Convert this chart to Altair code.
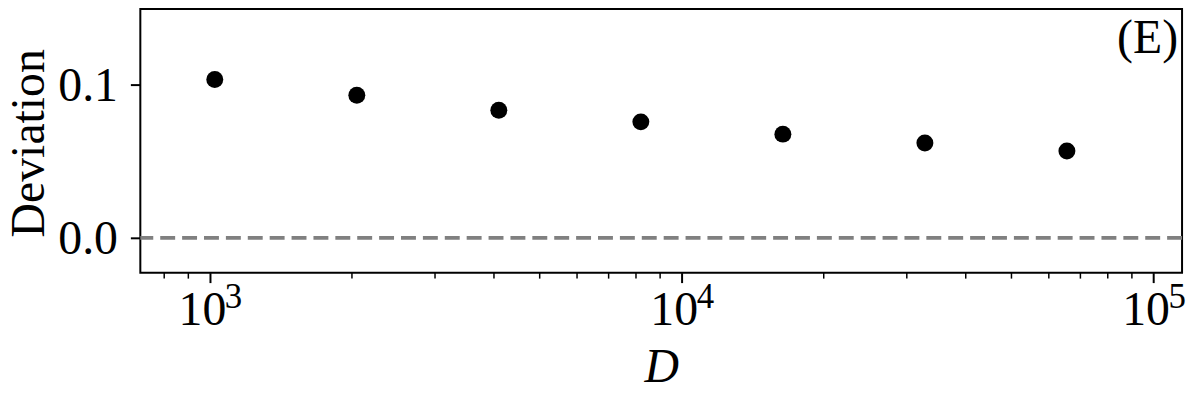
import altair as alt
import pandas as pd

# ---- data ----
D_values = [1024, 2048, 4096, 8192, 16384, 32768, 65536]
deviation = [0.1032, 0.0929, 0.0832, 0.0756, 0.0676, 0.0618, 0.0566]
zero_line = [0.0]
decades = [1000, 10000, 100000]
exponents = ["3", "4", "5"]
minor_ticks = [800, 900, 2000, 3000, 4000, 5000, 6000, 7000, 8000, 9000,
               20000, 30000, 40000, 50000, 60000, 70000, 80000, 90000]
y_ticks = [0.0, 0.1]
panel_label = ["(E)"]

FONT = "Liberation Serif"
FS = 48
W, H = 1047, 265

pts = pd.DataFrame({"D": D_values, "dev": deviation})
zl = pd.DataFrame({"dev": zero_line})
dec = pd.DataFrame({"D": decades, "e": exponents})
mn = pd.DataFrame({"D": minor_ticks})
lab = pd.DataFrame({"t": panel_label})

xscale = alt.Scale(type="log", domain=[712, 114960], nice=False)
yscale = alt.Scale(domain=[-0.0227, 0.1492], nice=False, zero=False)

xaxis = alt.Axis(
    values=decades, labelExpr="'10'", title="D",
    tickSize=10, tickWidth=2, tickColor="black",
    labelFont=FONT, labelFontSize=FS, labelColor="black",
    labelBaseline="alphabetic", labelPadding=42.5, labelOffset=-8,
    labelFlush=False, labelOverlap=False, labelBound=False,
    titleFont=FONT, titleFontSize=FS, titleFontStyle="italic",
    titleFontWeight="normal", titleColor="black",
    titleBaseline="alphabetic", titleY=109,
    domain=False, grid=False,
)
yaxis = alt.Axis(
    values=y_ticks, format=".1f", title="Deviation",
    tickSize=10, tickWidth=2, tickColor="black",
    labelFont=FONT, labelFontSize=FS, labelColor="black",
    labelPadding=13, labelBaseline="alphabetic", labelOffset=16,
    titleFont=FONT, titleFontSize=FS, titleFontWeight="normal",
    titleColor="black", titleAngle=270, titleBaseline="alphabetic",
    titleAlign="center", titleX=-97, titleY=134.5,
    domain=False, grid=False,
)

def X(field):
    return alt.X(f"{field}:Q", scale=xscale, axis=xaxis)

def Y(field):
    return alt.Y(f"{field}:Q", scale=yscale, axis=yaxis)

hline = alt.Chart(zl).mark_rule(
    color="#808080", strokeWidth=3.7, strokeDash=[15, 7]
).encode(y=Y("dev"))

points = alt.Chart(pts).mark_circle(
    size=290, color="black", opacity=1
).encode(x=X("D"), y=Y("dev"))

minor = alt.Chart(mn).mark_rule(color="black", strokeWidth=1.5).encode(
    x=X("D"), y=alt.value(H), y2=alt.value(H + 6)
)

exps = alt.Chart(dec).mark_text(
    font=FONT, fontSize=35, align="left", baseline="alphabetic", dx=15,
    color="black"
).encode(x=X("D"), y=alt.value(H + 35.5), text="e:N")

plabel = alt.Chart(lab).mark_text(
    font=FONT, fontSize=FS, align="right", baseline="alphabetic",
    color="black"
).encode(x=alt.value(W - 4), y=alt.value(44), text="t:N")

chart = alt.layer(hline, points, minor, exps, plabel).properties(
    width=W, height=H,
    autosize=alt.AutoSizeParams(type="none"),
    padding={"left": 133, "top": 0, "right": 10, "bottom": 125},
).configure_view(stroke="black", strokeWidth=2)

chart.save("out.html", embed_options={"renderer": "svg", "actions": False})
